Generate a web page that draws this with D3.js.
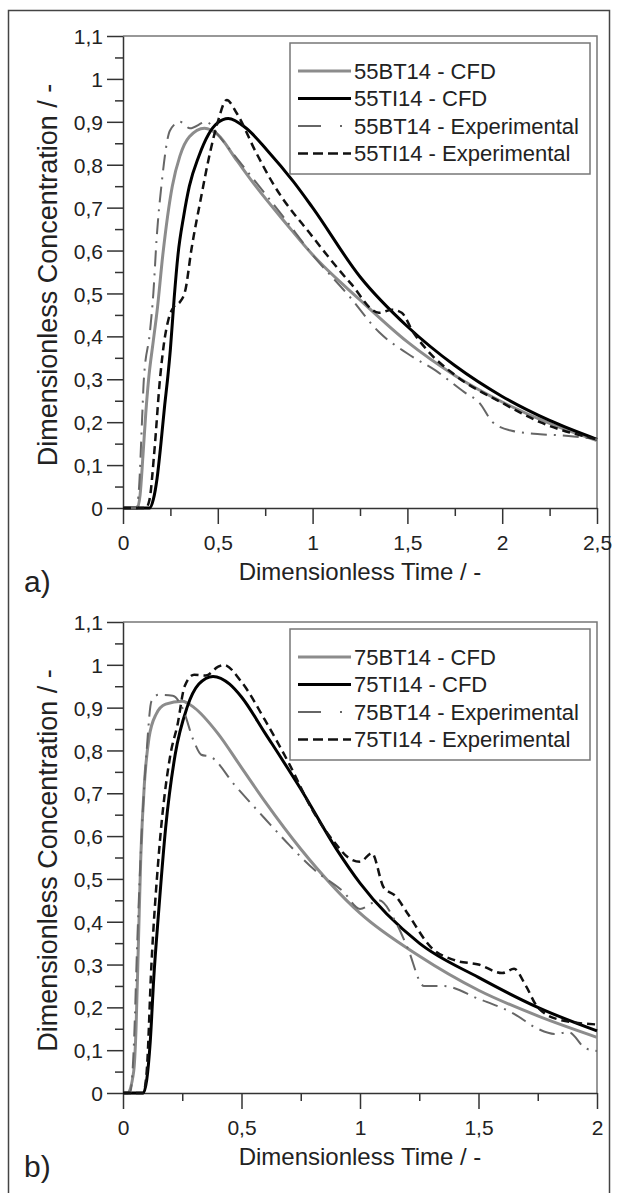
<!DOCTYPE html>
<html>
<head>
<meta charset="utf-8">
<script src="https://cdn.jsdelivr.net/npm/d3@7/dist/d3.min.js"></script>
<style>
  body { margin: 0; background: #fff; }
  svg { display: block; font-family: "Liberation Sans", Arial, sans-serif; }
</style>
</head>
<body>
<svg id="chart" width="618" height="1193"></svg>
<script>
// panel a) series, [time, concentration]
const a_bt_cfd = [[0,0],[0.075,0],[0.09,0.03],[0.105,0.12],[0.12,0.22],[0.135,0.3],[0.16,0.39],[0.18,0.46],[0.21,0.59],[0.26,0.75],[0.3,0.82],[0.35,0.865],[0.43,0.885],[0.5,0.87],[0.6,0.81],[0.7,0.75],[0.86,0.663],[1.0,0.59],[1.25,0.485],[1.5,0.387],[1.75,0.309],[2.0,0.247],[2.25,0.197],[2.5,0.157]];
const a_ti_cfd = [[0,0],[0.14,0],[0.16,0.02],[0.18,0.07],[0.2,0.15],[0.22,0.24],[0.235,0.3],[0.25,0.37],[0.27,0.49],[0.29,0.59],[0.32,0.68],[0.35,0.75],[0.4,0.82],[0.45,0.87],[0.5,0.898],[0.555,0.908],[0.65,0.885],[0.76,0.834],[0.9,0.76],[1.0,0.70],[1.25,0.539],[1.5,0.423],[1.75,0.332],[2.0,0.26],[2.25,0.204],[2.5,0.16]];
const a_bt_exp = [[0,0],[0.07,0],[0.085,0.05],[0.1,0.2],[0.11,0.3],[0.142,0.41],[0.16,0.5],[0.178,0.632],[0.204,0.757],[0.248,0.88],[0.3,0.9],[0.353,0.885],[0.44,0.9],[0.5,0.87],[0.58,0.826],[0.705,0.757],[0.845,0.679],[1.0,0.59],[1.2,0.49],[1.35,0.41],[1.5,0.36],[1.65,0.32],[1.8,0.27],[1.88,0.245],[1.95,0.2],[2.05,0.18],[2.2,0.172],[2.35,0.168],[2.5,0.16]];
const a_ti_exp = [[0,0],[0.12,0],[0.14,0.02],[0.165,0.13],[0.195,0.3],[0.215,0.38],[0.24,0.44],[0.27,0.47],[0.3,0.48],[0.33,0.51],[0.36,0.6],[0.41,0.72],[0.46,0.83],[0.5,0.9],[0.547,0.951],[0.6,0.92],[0.7,0.83],[0.79,0.757],[1.0,0.632],[1.2,0.524],[1.35,0.455],[1.42,0.462],[1.47,0.455],[1.53,0.41],[1.6,0.37],[1.75,0.31],[2.0,0.245],[2.2,0.2],[2.5,0.16]];

// panel b) series
const b_bt_cfd = [[0,0],[0.02,0],[0.045,0.05],[0.055,0.15],[0.065,0.35],[0.075,0.55],[0.09,0.72],[0.11,0.83],[0.14,0.885],[0.18,0.908],[0.25,0.915],[0.3,0.9],[0.4,0.84],[0.5,0.76],[0.6,0.68],[0.75,0.57],[1.0,0.42],[1.25,0.32],[1.5,0.24],[1.75,0.18],[2.0,0.13]];
const b_ti_cfd = [[0,0],[0.085,0],[0.1,0.03],[0.115,0.12],[0.13,0.27],[0.15,0.42],[0.18,0.62],[0.22,0.79],[0.27,0.9],[0.32,0.955],[0.38,0.973],[0.45,0.955],[0.5,0.925],[0.6,0.84],[0.75,0.71],[0.9,0.57],[1.0,0.49],[1.25,0.35],[1.5,0.27],[1.75,0.2],[2.0,0.145]];
const b_bt_exp = [[0,0],[0.03,0],[0.045,0.1],[0.06,0.35],[0.08,0.62],[0.1,0.8],[0.12,0.915],[0.15,0.93],[0.21,0.928],[0.25,0.9],[0.3,0.82],[0.33,0.79],[0.37,0.785],[0.47,0.72],[0.6,0.64],[0.7,0.58],[0.81,0.52],[0.93,0.47],[1.0,0.43],[1.08,0.45],[1.15,0.4],[1.2,0.34],[1.27,0.25],[1.35,0.25],[1.5,0.22],[1.65,0.185],[1.75,0.15],[1.82,0.138],[1.88,0.142],[1.95,0.105],[2.0,0.098]];
const b_ti_exp = [[0,0],[0.085,0],[0.1,0.05],[0.12,0.3],[0.15,0.55],[0.2,0.79],[0.23,0.86],[0.26,0.95],[0.3,0.977],[0.35,0.975],[0.4,0.995],[0.425,1.0],[0.5,0.96],[0.6,0.87],[0.7,0.77],[0.8,0.66],[0.9,0.58],[0.95,0.55],[1.0,0.54],[1.05,0.56],[1.1,0.48],[1.15,0.46],[1.2,0.42],[1.3,0.34],[1.4,0.31],[1.5,0.3],[1.6,0.28],[1.65,0.29],[1.7,0.25],[1.75,0.2],[1.85,0.17],[2.0,0.16]];

const a_labels = ['55BT14 - CFD', '55TI14 - CFD', '55BT14 - Experimental', '55TI14 - Experimental'];
const b_labels = ['75BT14 - CFD', '75TI14 - CFD', '75BT14 - Experimental', '75TI14 - Experimental'];

const yTicks = [0, 0.1, 0.2, 0.3, 0.4, 0.5, 0.6, 0.7, 0.8, 0.9, 1, 1.1];
const yTickLabels = ['0', '0,1', '0,2', '0,3', '0,4', '0,5', '0,6', '0,7', '0,8', '0,9', '1', '1,1'];
const a_xTicks = [0, 0.5, 1, 1.5, 2, 2.5];
const a_xTickLabels = ['0', '0,5', '1', '1,5', '2', '2,5'];
const b_xTicks = [0, 0.5, 1, 1.5, 2];
const b_xTickLabels = ['0', '0,5', '1', '1,5', '2'];

// line styles, same order as the series
const styles = [
  { stroke: '#8c8c8c', width: 3, dash: null, legendDash: null },
  { stroke: '#000', width: 3, dash: null, legendDash: null },
  { stroke: '#666', width: 2, dash: '16,7,2,7', legendDash: '23,19,2,40' },
  { stroke: '#111', width: 2.5, dash: '8,5', legendDash: '10,5' }
];

const svg = d3.select('#chart');

// outer frame
svg.append('rect')
  .attr('x', 8.5).attr('y', 10.5)
  .attr('width', 601).attr('height', 1200)
  .attr('fill', 'none').attr('stroke', '#444').attr('stroke-width', 1.5);

const fmt = (ticks, labels) => d => labels[ticks.indexOf(d)];

const makePanel = (parent, props) => {
  const { top, bottom, xMax, series, labels, xTicks, xTickLabels, tag } = props;
  const left = 123, right = 597;

  const x = d3.scaleLinear().domain([0, xMax]).range([left, right]);
  const y = d3.scaleLinear().domain([0, 1.1]).range([bottom, top]);

  const g = parent.append('g');

  // plot frame (top + right)
  g.append('path')
    .attr('d', `M${left},${top}H${right}V${bottom}`)
    .attr('fill', 'none').attr('stroke', '#777').attr('stroke-width', 1.5);

  // minor ticks
  g.append('g')
    .attr('transform', `translate(0,${bottom})`)
    .call(d3.axisBottom(x).tickValues(d3.range(0.25, xMax, 0.5)).tickSize(8).tickSizeOuter(0).tickFormat(''))
    .call(a => a.select('.domain').remove());
  g.append('g')
    .attr('transform', `translate(${left},0)`)
    .call(d3.axisLeft(y).tickValues(d3.range(0.05, 1.1, 0.1)).tickSize(8).tickSizeOuter(0).tickFormat(''))
    .call(a => a.select('.domain').remove());

  // major ticks + labels
  g.append('g')
    .attr('transform', `translate(0,${bottom})`)
    .call(d3.axisBottom(x).tickValues(xTicks).tickSize(16).tickSizeOuter(0).tickPadding(11).tickFormat(fmt(xTicks, xTickLabels)));
  const yAxis = g.append('g')
    .attr('transform', `translate(${left},0)`)
    .call(d3.axisLeft(y).tickValues(yTicks).tickSize(16).tickSizeOuter(0).tickPadding(4).tickFormat(fmt(yTicks, yTickLabels)));

  g.selectAll('.tick line').attr('stroke', '#333').attr('stroke-width', 1.5);
  g.selectAll('.domain').attr('stroke', '#333').attr('stroke-width', 1.5);
  g.selectAll('.tick text')
    .attr('font-family', '"Liberation Sans", Arial, sans-serif')
    .attr('font-size', 21).attr('fill', '#222');
  yAxis.selectAll('.tick text').attr('dy', '0.36em');

  // curves
  const line = d3.line().x(d => x(d[0])).y(d => y(d[1])).curve(d3.curveMonotoneX);
  g.selectAll('.curve').data(series).join('path')
    .attr('class', 'curve')
    .attr('d', line)
    .attr('fill', 'none')
    .attr('stroke', (d, i) => styles[i].stroke)
    .attr('stroke-width', (d, i) => styles[i].width)
    .attr('stroke-dasharray', (d, i) => styles[i].dash)
    .attr('stroke-linejoin', 'round');

  // legend
  const lg = g.append('g').attr('transform', `translate(290,${top + 7})`);
  lg.append('rect')
    .attr('width', 300).attr('height', 131)
    .attr('fill', '#fff').attr('stroke', '#777').attr('stroke-width', 1.5);
  const rows = lg.selectAll('.row').data(labels).join('g')
    .attr('class', 'row')
    .attr('transform', (d, i) => `translate(0,${28 + i * 27.5})`);
  rows.append('line')
    .attr('x1', 8).attr('x2', 61)
    .attr('stroke', (d, i) => styles[i].stroke)
    .attr('stroke-width', (d, i) => styles[i].width)
    .attr('stroke-dasharray', (d, i) => styles[i].legendDash);
  rows.append('text')
    .attr('x', 64).attr('dy', '0.36em')
    .attr('font-size', 22).attr('fill', '#222')
    .text(d => d);

  // axis titles
  g.append('text')
    .attr('x', (left + right) / 2).attr('y', bottom + 72)
    .attr('text-anchor', 'middle').attr('font-size', 24).attr('fill', '#222')
    .text('Dimensionless Time / -');
  g.append('text')
    .attr('transform', `translate(57,${(top + bottom) / 2 + 3}) rotate(-90)`)
    .attr('text-anchor', 'middle').attr('font-size', 27).attr('fill', '#222')
    .text('Dimensionless Concentration / -');

  // panel tag
  g.append('text')
    .attr('x', 24).attr('y', bottom + 84)
    .attr('font-size', 30).attr('fill', '#222')
    .text(tag);
};

svg.call(makePanel, {
  top: 36, bottom: 508, xMax: 2.5,
  series: [a_bt_cfd, a_ti_cfd, a_bt_exp, a_ti_exp],
  labels: a_labels, xTicks: a_xTicks, xTickLabels: a_xTickLabels, tag: 'a)'
});
svg.call(makePanel, {
  top: 622, bottom: 1093, xMax: 2,
  series: [b_bt_cfd, b_ti_cfd, b_bt_exp, b_ti_exp],
  labels: b_labels, xTicks: b_xTicks, xTickLabels: b_xTickLabels, tag: 'b)'
});
</script>
</body>
</html>
